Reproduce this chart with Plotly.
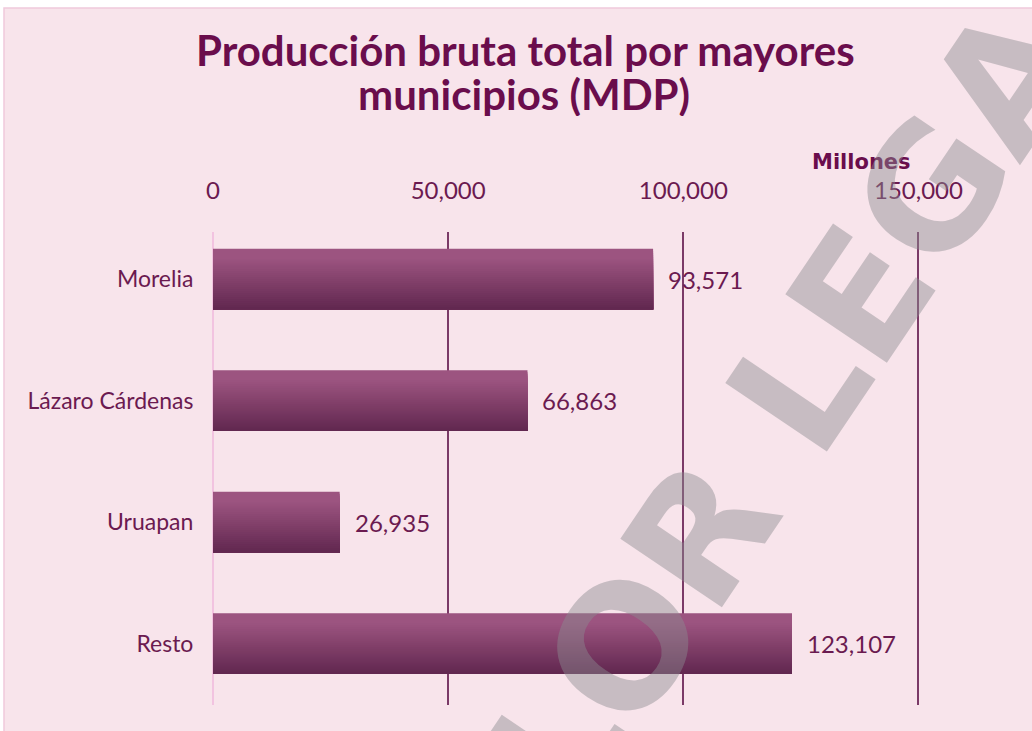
import plotly.graph_objects as go
import numpy as np

# Data (millones de pesos)
municipios = ["Morelia", "Lázaro Cárdenas", "Uruapan", "Resto"]
produccion = [93571, 66863, 26935, 123107]
x_ticks = [0, 50000, 100000, 150000]

TITLE_COLOR = "#6A0D4C"
TEXT_COLOR = "#6B1A50"
BG = "#F8E4EB"

# plot-area geometry (pixels)
L, R, T, B = 213, 90, 232, 26
W = 1032 - L - R
H = 731 - T - B


def px_x(px):
    return (px - L) / W


def px_y(py):
    return (731 - B - py) / H


fig = go.Figure()

# vertical gradient on the bars: each layer covers from its top edge down to
# the bar's bottom, so later (darker) layers overlap without seams
n_strips = 30
bar_w = 0.5
top_rgb = np.array([0x9C, 0x54, 0x80])
bot_rgb = np.array([0x62, 0x28, 0x50])
for k in range(n_strips):
    t = k / (n_strips - 1)
    t = min(1.0, max(0.0, (t - 0.15) / 0.85))
    c = top_rgb + (bot_rgb - top_rgb) * t
    color = "rgb(%d,%d,%d)" % tuple(c.round().astype(int))
    step = bar_w / n_strips
    fig.add_trace(go.Bar(
        x=produccion, y=municipios, orientation="h",
        width=bar_w - k * step,
        offset=-bar_w / 2 + k * step,
        marker=dict(color=color, line=dict(width=0)),
        hoverinfo="skip", showlegend=False,
    ))

# value labels next to each bar
for m, v in zip(municipios, produccion):
    fig.add_annotation(
        x=v, y=m, xref="x", yref="y", text=f"{v:,}",
        showarrow=False, xanchor="left", xshift=13,
        font=dict(family="Lato", size=24, color=TEXT_COLOR),
    )

# two-line title
fig.add_annotation(
    x=px_x(525), y=px_y(50), xref="paper", yref="paper",
    text="Producción bruta total por mayores", showarrow=False,
    xanchor="center", yanchor="middle", height=44,
    font=dict(family="Lato", size=42, color=TITLE_COLOR, weight=700),
)
fig.add_annotation(
    x=px_x(524), y=px_y(94), xref="paper", yref="paper",
    text="municipios (MDP)", showarrow=False,
    xanchor="center", yanchor="middle", height=44,
    font=dict(family="Lato", size=42, color=TITLE_COLOR, weight=700),
)

# unit label above the axis
fig.add_annotation(
    x=px_x(861), y=px_y(162), xref="paper", yref="paper",
    text="Millones", showarrow=False, xanchor="center", yanchor="middle",
    font=dict(family="DejaVu Sans", size=21, color=TITLE_COLOR, weight=700),
)

# watermark
fig.add_annotation(
    x=px_x(640), y=px_y(625), xref="paper", yref="paper",
    text="SIN VALOR LEGAL", showarrow=False, textangle=-56,
    xanchor="center", yanchor="middle",
    font=dict(family="DejaVu Sans", size=168, color="rgba(140,140,145,0.45)",
              weight=700),
)

# framed panel
fig.add_shape(
    type="rect", xref="paper", yref="paper", layer="below",
    x0=px_x(4), x1=px_x(1040), y0=-0.2, y1=px_y(8),
    fillcolor=BG, line=dict(color="#F0C9DC", width=1.5),
)

fig.update_layout(
    width=1032, height=731,
    margin=dict(l=L, r=R, t=T, b=B),
    paper_bgcolor="white", plot_bgcolor="rgba(0,0,0,0)",
    barmode="overlay",
    xaxis=dict(
        side="top", range=[0, 155000],
        tickvals=x_ticks, tickformat=",d",
        tickfont=dict(family="Lato", size=24, color=TEXT_COLOR),
        ticks="outside", ticklen=22, tickcolor="rgba(0,0,0,0)",
        showgrid=True, gridcolor="#7B3A67", gridwidth=1.5,
        zeroline=True, zerolinecolor="#F2C3E0", zerolinewidth=2,
        showline=False, fixedrange=True,
    ),
    yaxis=dict(
        categoryorder="array", categoryarray=municipios,
        range=[3.506, -0.387],
        tickfont=dict(family="Lato", size=23, color=TEXT_COLOR),
        ticks="outside", ticklen=14, tickcolor="rgba(0,0,0,0)",
        showgrid=False, zeroline=False, showline=False, fixedrange=True,
    ),
)

fig.write_html("out.html")
